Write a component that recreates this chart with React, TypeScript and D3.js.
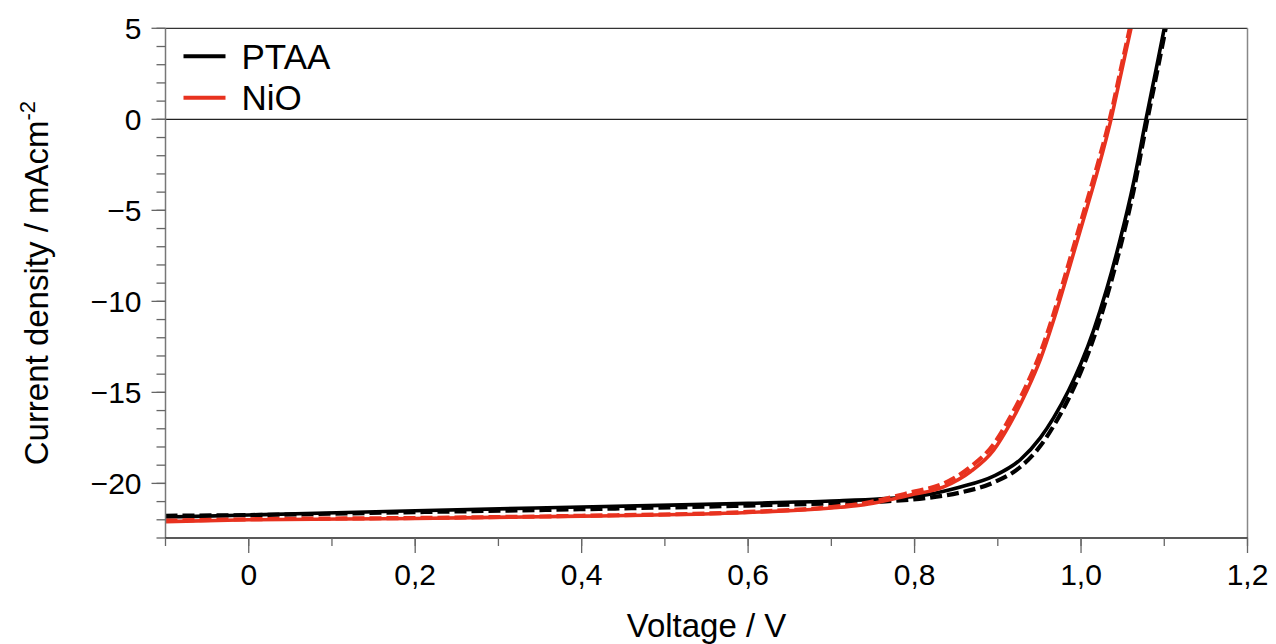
import { useRef, useEffect } from "react"
import * as d3 from "d3"

// J-V data (voltage in V, current density in mA/cm^2)
const ptaaV = [-0.1, 0, 0.2, 0.4, 0.6, 0.7, 0.76, 0.815, 0.855, 0.895, 0.927, 0.951, 0.967, 0.985, 1.0, 1.015, 1.031, 1.047, 1.063, 1.078, 1.09, 1.1, 1.11]
const ptaaJ = [-21.85, -21.74, -21.5, -21.3, -21.1, -20.97, -20.85, -20.62, -20.2, -19.6, -18.7, -17.5, -16.4, -14.9, -13.4, -11.6, -9.3, -6.6, -3.5, 0, 2.7, 5.0, 7.4]
const ptaaDashJ = [-21.78, -21.74, -21.58, -21.42, -21.22, -21.1, -21.0, -20.8, -20.5, -19.95, -19.1, -17.95, -16.85, -15.35, -13.85, -12.05, -9.75, -7.05, -3.95, -0.4, 2.3, 4.6, 7.0]

const nioV = [-0.1, 0, 0.2, 0.4, 0.6, 0.7, 0.735, 0.795, 0.835, 0.867, 0.895, 0.915, 0.935, 0.951, 0.968, 0.985, 1.001, 1.017, 1.036, 1.048, 1.06, 1.07]
const nioJ = [-22.1, -22.0, -21.93, -21.8, -21.6, -21.35, -21.2, -20.64, -20.19, -19.36, -18.17, -16.7, -14.9, -13.2, -10.9, -8.3, -5.8, -3.3, 0, 2.5, 5.0, 7.2]
const nioDashJ = [-22.05, -21.97, -21.9, -21.78, -21.57, -21.3, -21.12, -20.5, -20.0, -19.1, -17.85, -16.35, -14.55, -12.85, -10.55, -7.95, -5.45, -2.95, 0.3, 2.8, 5.3, 7.5]

const xMajorTicks = [0, 0.2, 0.4, 0.6, 0.8, 1.0, 1.2]
const xTickLabels = ["0", "0,2", "0,4", "0,6", "0,8", "1,0", "1,2"]
const yMajorTicks = [-20, -15, -10, -5, 0, 5]
const yTickLabels = ["\u221220", "\u221215", "\u221210", "\u22125", "0", "5"]

const legendNames = ["PTAA", "NiO"]
const legendColors = ["#000000", "#e8321f"]

const JVChart = () => {
  const svgRef = useRef<SVGSVGElement>(null)

  useEffect(() => {
    document.body.style.margin = "0"
    d3.select(svgRef.current).selectAll("*").remove()

    const W = 1276
    const H = 644
    const margin = { top: 28.3, right: 28.5, bottom: 106, left: 165.5 }
    const width = W - margin.left - margin.right
    const height = H - margin.top - margin.bottom
    const font = "'Liberation Sans', Arial, Helvetica, sans-serif"

    const svg = d3
      .select(svgRef.current)
      .attr("width", W)
      .attr("height", H)
      .append("g")
      .attr("transform", `translate(${margin.left},${margin.top})`)

    const x = d3.scaleLinear().domain([-0.1, 1.2]).range([0, width])
    const y = d3.scaleLinear().domain([-23, 5]).range([height, 0])

    svg
      .append("clipPath")
      .attr("id", "plot-clip")
      .append("rect")
      .attr("width", width)
      .attr("height", height)

    // Zero line
    svg
      .append("line")
      .attr("x1", 0)
      .attr("x2", width)
      .attr("y1", y(0))
      .attr("y2", y(0))
      .attr("stroke", "#222")
      .attr("stroke-width", 1.3)

    // Curves (dashed drawn first, solid on top)
    const line = d3
      .line<[number, number]>()
      .x((d) => x(d[0]))
      .y((d) => y(d[1]))
      .curve(d3.curveMonotoneX)

    const series = [
      { v: ptaaV, j: ptaaDashJ, color: legendColors[0], dash: "12,5" },
      { v: ptaaV, j: ptaaJ, color: legendColors[0], dash: null },
      { v: nioV, j: nioDashJ, color: legendColors[1], dash: "12,5" },
      { v: nioV, j: nioJ, color: legendColors[1], dash: null },
    ]

    const plot = svg.append("g").attr("clip-path", "url(#plot-clip)")
    series.forEach((s) => {
      const pts = s.v.map((v, i) => [v, s.j[i]] as [number, number])
      plot
        .append("path")
        .datum(pts)
        .attr("fill", "none")
        .attr("stroke", s.color)
        .attr("stroke-width", s.dash ? 4.2 : 3.6)
        .attr("stroke-dasharray", s.dash)
        .attr("d", line)
    })

    // Frame: top and right
    svg
      .append("line")
      .attr("x1", 0)
      .attr("x2", width)
      .attr("y1", 0)
      .attr("y2", 0)
      .attr("stroke", "#333")
      .attr("stroke-width", 1.3)
    svg
      .append("line")
      .attr("x1", width)
      .attr("x2", width)
      .attr("y1", 0)
      .attr("y2", height)
      .attr("stroke", "#888")
      .attr("stroke-width", 1.5)

    // Y axis
    const yAxis = svg.append("g")
    yAxis
      .append("line")
      .attr("x1", 0)
      .attr("x2", 0)
      .attr("y1", 0)
      .attr("y2", height)
      .attr("stroke", "#777")
      .attr("stroke-width", 1.5)
    yAxis
      .selectAll("line.minor")
      .data(d3.range(-23, 6))
      .enter()
      .append("line")
      .attr("class", "minor")
      .attr("x1", -9)
      .attr("x2", 0)
      .attr("y1", (d) => y(d))
      .attr("y2", (d) => y(d))
      .attr("stroke", "#666")
      .attr("stroke-width", 1.3)
    yAxis
      .selectAll("line.major")
      .data(yMajorTicks)
      .enter()
      .append("line")
      .attr("class", "major")
      .attr("x1", -14)
      .attr("x2", 0)
      .attr("y1", (d) => y(d))
      .attr("y2", (d) => y(d))
      .attr("stroke", "#666")
      .attr("stroke-width", 1.3)
    yAxis
      .selectAll("text")
      .data(yMajorTicks)
      .enter()
      .append("text")
      .attr("x", -24)
      .attr("y", (d) => y(d) + 10.5)
      .attr("text-anchor", "end")
      .style("font-family", font)
      .style("font-size", "30px")
      .text((d, i) => yTickLabels[i])

    // X axis
    const xAxis = svg.append("g").attr("transform", `translate(0,${height})`)
    xAxis
      .append("line")
      .attr("x1", 0)
      .attr("x2", width)
      .attr("stroke", "#222")
      .attr("stroke-width", 1.3)
    xAxis
      .selectAll("line.minor")
      .data(d3.range(-1, 13).map((d) => d / 10))
      .enter()
      .append("line")
      .attr("class", "minor")
      .attr("x1", (d) => x(d))
      .attr("x2", (d) => x(d))
      .attr("y1", 0)
      .attr("y2", 8)
      .attr("stroke", "#666")
      .attr("stroke-width", 1.3)
    xAxis
      .selectAll("line.major")
      .data(xMajorTicks)
      .enter()
      .append("line")
      .attr("class", "major")
      .attr("x1", (d) => x(d))
      .attr("x2", (d) => x(d))
      .attr("y1", 0)
      .attr("y2", 15)
      .attr("stroke", "#666")
      .attr("stroke-width", 1.3)
    xAxis
      .selectAll("text")
      .data(xMajorTicks)
      .enter()
      .append("text")
      .attr("x", (d) => x(d))
      .attr("y", 47)
      .attr("text-anchor", "middle")
      .style("font-family", font)
      .style("font-size", "30px")
      .text((d, i) => xTickLabels[i])

    // Axis titles
    svg
      .append("text")
      .attr("x", width / 2)
      .attr("y", height + 99)
      .attr("text-anchor", "middle")
      .style("font-family", font)
      .style("font-size", "33px")
      .text("Voltage / V")

    const yTitle = svg
      .append("text")
      .attr("transform", "rotate(-90)")
      .attr("x", -height / 2)
      .attr("y", -118)
      .attr("text-anchor", "middle")
      .style("font-family", font)
      .style("font-size", "33px")
    yTitle.append("tspan").text("Current density / mAcm")
    yTitle.append("tspan").attr("dy", -13).style("font-size", "22px").text("-2")

    // Legend
    const legend = svg.append("g").attr("transform", "translate(18,28)")
    legendNames.forEach((name, i) => {
      const row = legend.append("g").attr("transform", `translate(0,${i * 41.5})`)
      row
        .append("line")
        .attr("x1", 0)
        .attr("x2", 42)
        .attr("stroke", legendColors[i])
        .attr("stroke-width", 4)
      row
        .append("text")
        .attr("x", 58)
        .attr("y", 12.5)
        .style("font-family", font)
        .style("font-size", "35px")
        .text(name)
    })
  }, [])

  return <svg ref={svgRef} style={{ display: "block" }}></svg>
}

export default function App() {
  return <JVChart />
}
